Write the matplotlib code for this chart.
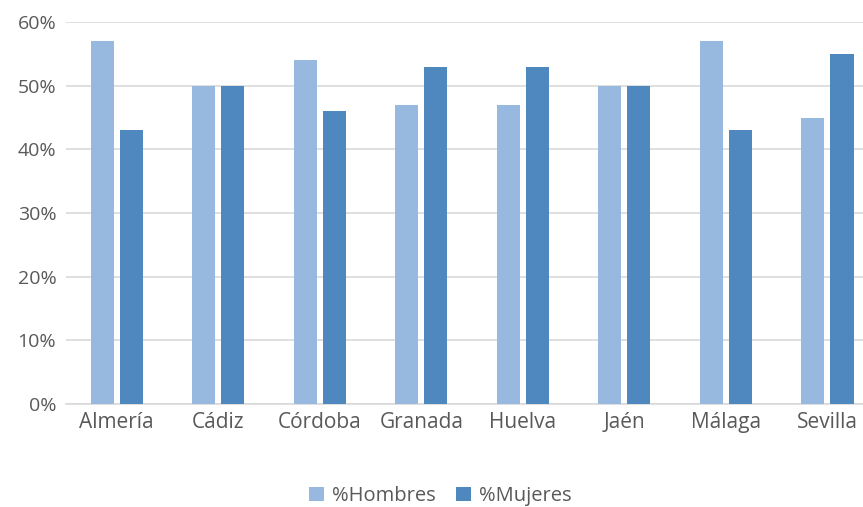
import numpy as np
import matplotlib.pyplot as plt
from matplotlib.ticker import PercentFormatter

# Data
provincias = ['Almería', 'Cádiz', 'Córdoba', 'Granada', 'Huelva', 'Jaén', 'Málaga', 'Sevilla']
hombres = [57, 50, 54, 47, 47, 50, 57, 45]
mujeres = [43, 50, 46, 53, 53, 50, 43, 55]

plt.rcParams['font.family'] = ['Open Sans', 'DejaVu Sans']

W, H = 863, 507
fig = plt.figure(figsize=(W / 100, H / 100), dpi=100)
ax = fig.add_axes([66 / W, (H - 404) / H, (W - 66) / W, (404 - 22) / H])

x = np.arange(len(provincias))
bw = 0.227
off = 0.143
ax.bar(x - off, hombres, bw, color='#98B9DF', label='%Hombres', zorder=3)
ax.bar(x + off, mujeres, bw, color='#4F88BE', label='%Mujeres', zorder=3)

ax.set_ylim(0, 60)
ax.set_xlim(-0.5, 7.35)
ax.set_yticks(np.arange(0, 61, 10))
ax.yaxis.set_major_formatter(PercentFormatter(decimals=0))
ax.set_xticks(x)
ax.set_xticklabels(provincias)
ax.grid(axis='y', color='#D9D9D9', linewidth=1.2, zorder=0)
for s in ['top', 'right', 'left']:
    ax.spines[s].set_visible(False)
ax.spines['bottom'].set_color('#D9D9D9')
ax.spines['bottom'].set_linewidth(1.2)
ax.tick_params(length=0, colors='#595959')
ax.tick_params(axis='y', labelsize=14, pad=7)
ax.tick_params(axis='x', labelsize=15, pad=6)

fig.legend(loc='center', bbox_to_anchor=(440 / W, 1 - 496 / H), ncol=2, frameon=False,
           fontsize=14.5, labelcolor='#595959', handlelength=0.75, handleheight=0.75,
           handletextpad=0.4, columnspacing=1.0)

fig.savefig('out.png', dpi=100)
